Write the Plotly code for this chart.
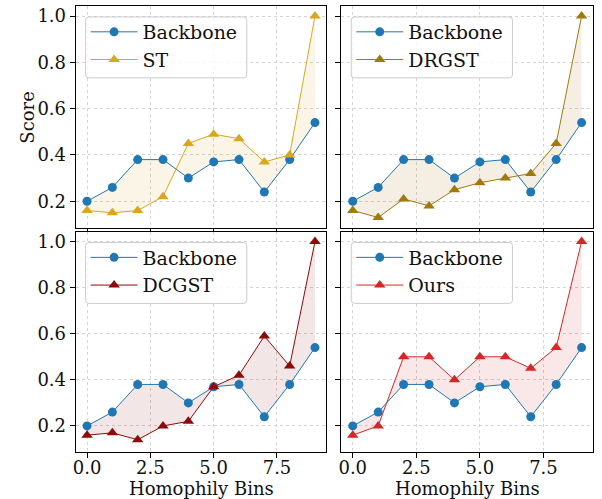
import plotly.graph_objects as go

bins = list(range(10))
backbone = [0.20, 0.26, 0.38, 0.38, 0.30, 0.37, 0.38, 0.24, 0.38, 0.54]
st = [0.16, 0.15, 0.16, 0.22, 0.45, 0.49, 0.47, 0.37, 0.40, 1.00]
drgst = [0.16, 0.13, 0.21, 0.18, 0.25, 0.28, 0.30, 0.32, 0.45, 1.00]
dcgst = [0.16, 0.17, 0.14, 0.20, 0.22, 0.37, 0.42, 0.59, 0.46, 1.00]
ours = [0.16, 0.20, 0.50, 0.50, 0.40, 0.50, 0.50, 0.45, 0.54, 1.00]

methods = [("ST", st, "#DAA520", "rgba(218,165,32,0.11)"),
           ("DRGST", drgst, "#A2790D", "rgba(162,121,13,0.12)"),
           ("DCGST", dcgst, "#8E0A0A", "rgba(142,10,10,0.10)"),
           ("Ours", ours, "#D62728", "rgba(214,39,40,0.11)")]

FONT = "DejaVu Serif"
BLUE = "#1f77b4"
TXT = "#111111"
W, H = 602, 499

xdoms = [[73/W, 325/W], [340/W, 593/W]]
ydoms = [[1-227/H, 1-5/H], [1-452/H, 1-231/H]]

fig = go.Figure()
layout = {}
shapes = []
for i, (name, vals, col, fcol) in enumerate(methods):
    r, c = divmod(i, 2)
    n = i + 1
    xa = "x" if n == 1 else f"x{n}"
    ya = "y" if n == 1 else f"y{n}"
    lg = "legend" if n == 1 else f"legend{n}"
    fig.add_trace(go.Scatter(x=bins, y=backbone, mode="lines", line=dict(width=0),
                             showlegend=False, hoverinfo="skip", xaxis=xa, yaxis=ya))
    fig.add_trace(go.Scatter(x=bins, y=vals, mode="lines", line=dict(width=0),
                             fill="tonexty", fillcolor=fcol,
                             showlegend=False, hoverinfo="skip", xaxis=xa, yaxis=ya))
    fig.add_trace(go.Scatter(x=bins, y=backbone, mode="lines+markers", name="Backbone",
                             line=dict(color=BLUE, width=1),
                             marker=dict(symbol="circle", size=9, color=BLUE),
                             xaxis=xa, yaxis=ya, legend=lg))
    fig.add_trace(go.Scatter(x=bins, y=vals, mode="lines+markers", name=name,
                             line=dict(color=col, width=1),
                             marker=dict(symbol="triangle-up", size=10, color=col),
                             xaxis=xa, yaxis=ya, legend=lg))
    common = dict(showline=True, mirror=True, linecolor="black", linewidth=1,
                  ticks="outside", ticklen=5, tickcolor="black",
                  showgrid=True, gridcolor="#d4d4d4", griddash="dot", gridwidth=1,
                  zeroline=False, tickfont=dict(family=FONT, size=18, color=TXT))
    xkey = "xaxis" if n == 1 else f"xaxis{n}"
    ykey = "yaxis" if n == 1 else f"yaxis{n}"
    layout[xkey] = dict(common, domain=xdoms[c], anchor=ya, range=[-0.45, 9.45],
                        tickvals=[0, 2.5, 5, 7.5], ticktext=["0.0", "2.5", "5.0", "7.5"],
                        showticklabels=(r == 1), ticklabelstandoff=-6)
    layout[ykey] = dict(common, domain=ydoms[r], anchor=xa, range=[0.0865, 1.0435],
                        tickvals=[0.2, 0.4, 0.6, 0.8, 1.0],
                        ticktext=["0.2", "0.4", "0.6", "0.8", "1.0"],
                        showticklabels=(c == 0))
    bx0 = xdoms[c][0]*W + 10
    by0 = (1 - ydoms[r][1])*H + 11
    bx1, by1 = bx0 + 162, by0 + 61
    rad = 3
    def P(x, y):
        return f"{x/W:.5f},{1-y/H:.5f}"
    path = (f"M {P(bx0+rad, by0)} L {P(bx1-rad, by0)} Q {P(bx1, by0)} {P(bx1, by0+rad)} "
            f"L {P(bx1, by1-rad)} Q {P(bx1, by1)} {P(bx1-rad, by1)} "
            f"L {P(bx0+rad, by1)} Q {P(bx0, by1)} {P(bx0, by1-rad)} "
            f"L {P(bx0, by0+rad)} Q {P(bx0, by0)} {P(bx0+rad, by0)} Z")
    shapes.append(dict(type="path", path=path, xref="paper", yref="paper", layer="above",
                       fillcolor="rgba(255,255,255,0.8)", line=dict(color="#cccccc", width=1)))
    layout[lg] = dict(x=bx0/W, y=1-(by0-4)/H, xanchor="left", yanchor="top",
                      traceorder="normal", bgcolor="rgba(0,0,0,0)", borderwidth=0,
                      font=dict(family=FONT, size=19, color=TXT),
                      itemwidth=47, tracegroupgap=0)

annotations = [
    dict(text="Score", x=25/W, y=1-116/H, xref="paper", yref="paper",
         textangle=-90, showarrow=False, xanchor="center", yanchor="middle",
         font=dict(family=FONT, size=18, color=TXT)),
]
for c in range(2):
    annotations.append(dict(text="Homophily Bins", x=(xdoms[c][0]+xdoms[c][1])/2,
                            y=1-488/H, xref="paper", yref="paper", showarrow=False,
                            xanchor="center", yanchor="middle",
                            font=dict(family=FONT, size=18, color=TXT)))

fig.update_layout(**layout)
fig.update_layout(width=W, height=H, margin=dict(l=0, r=0, t=0, b=0),
                  paper_bgcolor="white", plot_bgcolor="white",
                  font=dict(family=FONT, color=TXT), annotations=annotations, shapes=shapes)
fig.write_html("out.html", config={"displayModeBar": False},
               post_script="document.body.style.margin='0';document.body.style.overflow='hidden';")
